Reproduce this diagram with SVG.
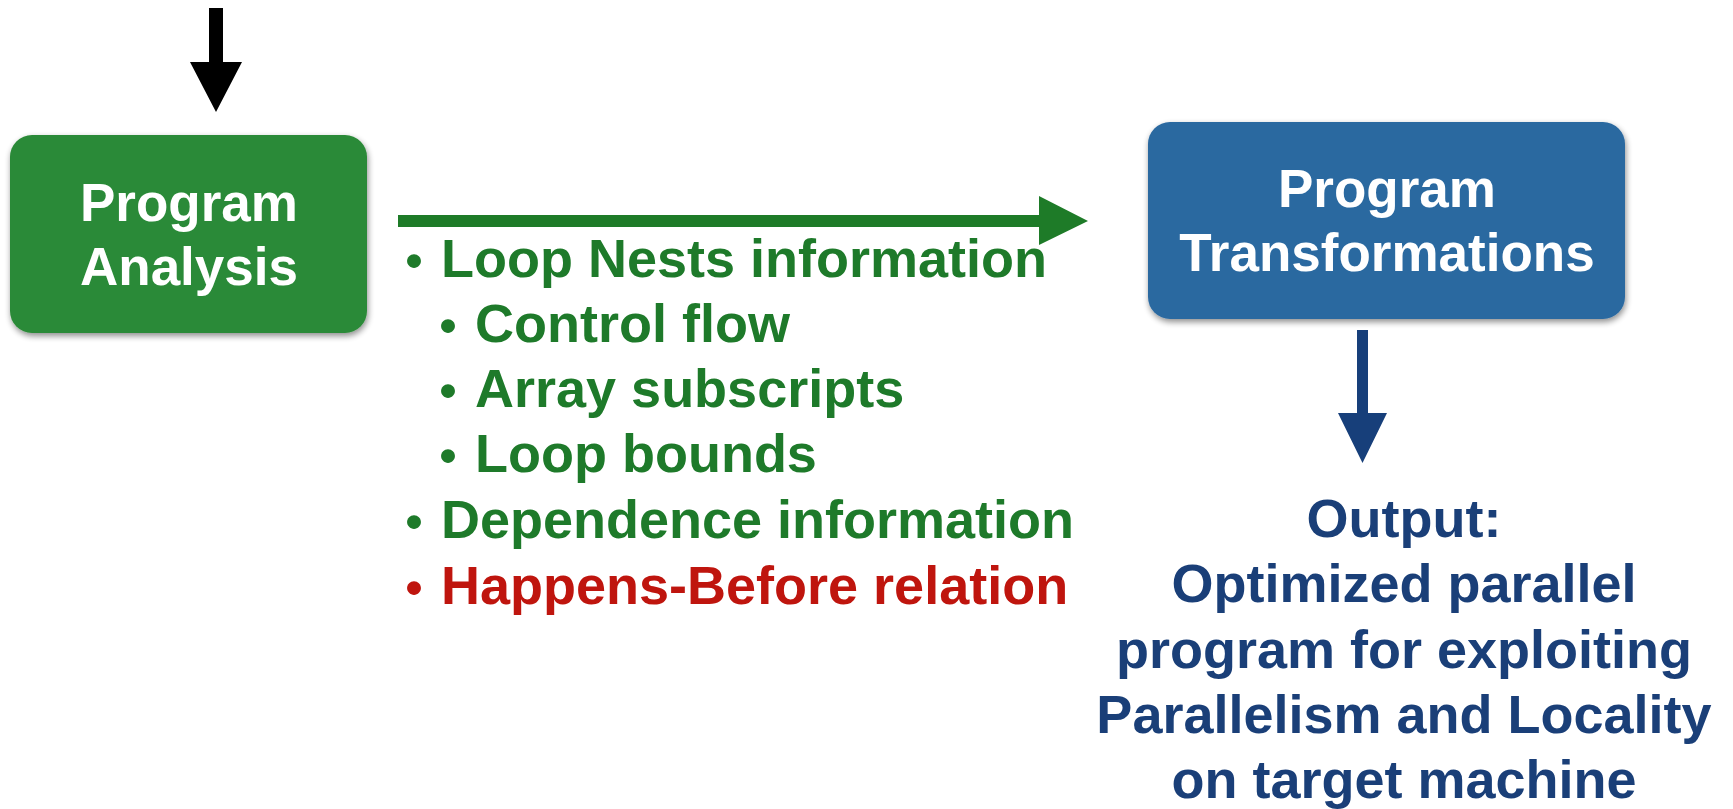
<svg xmlns="http://www.w3.org/2000/svg" width="1733" height="809" viewBox="0 0 1733 809">
<defs>
<filter id="sh" x="-10%" y="-10%" width="125%" height="130%">
<feGaussianBlur in="SourceAlpha" stdDeviation="3"/>
<feOffset dx="1" dy="3" result="b"/>
<feComponentTransfer><feFuncA type="linear" slope="0.45"/></feComponentTransfer>
<feMerge><feMergeNode/><feMergeNode in="SourceGraphic"/></feMerge>
</filter>
</defs>
<style>
text{font-family:"Liberation Sans","Noto Sans CJK JP",Arial,sans-serif;font-weight:bold;}
.box{font-size:53px;fill:#ffffff;text-anchor:middle;}
.g{font-size:54px;fill:#1e7a2a;}
.r{font-size:54px;fill:#bf150e;}
.o{font-size:54px;fill:#1a3f78;text-anchor:middle;}
</style>
<rect width="1733" height="809" fill="#ffffff"/>
<g id="connectors">
<polygon points="209,8 223,8 223,62 242,62 216,112 190,62 209,62" fill="#000000"/>
<polygon points="398,215 1039,215 1039,196 1088,221 1039,245 1039,227 398,227" fill="#1e7b28"/>
<polygon points="1357,330 1368,330 1368,413 1387,413 1362.5,463 1338,413 1357,413" fill="#173f7a"/>
</g>
<g id="program-analysis">
<rect x="10" y="135" width="357" height="198" rx="22" fill="#2b8a37" filter="url(#sh)"/>
<text class="box" x="189" y="221">Program</text>
<text class="box" x="189" y="285">Analysis</text>
</g>
<g id="program-transformations">
<rect x="1148" y="122" width="477" height="197" rx="22" fill="#2c69a0" filter="url(#sh)"/>
<text class="box" x="1387" y="207">Program</text>
<text class="box" x="1387" y="271">Transformations</text>
</g>
<g id="info-list">
<text class="g" x="387" y="277"><tspan dy="5">・</tspan><tspan dy="-5">Loop Nests information</tspan></text>
<text class="g" x="421" y="342"><tspan dy="5">・</tspan><tspan dy="-5">Control flow</tspan></text>
<text class="g" x="421" y="407"><tspan dy="5">・</tspan><tspan dy="-5">Array subscripts</tspan></text>
<text class="g" x="421" y="472"><tspan dy="5">・</tspan><tspan dy="-5">Loop bounds</tspan></text>
<text class="g" x="387" y="538"><tspan dy="5">・</tspan><tspan dy="-5">Dependence information</tspan></text>
<text class="r" x="387" y="604"><tspan dy="5">・</tspan><tspan dy="-5">Happens-Before relation</tspan></text>
</g>
<g id="output">
<text class="o" x="1404" y="537">Output:</text>
<text class="o" x="1404" y="602">Optimized parallel</text>
<text class="o" x="1404" y="668">program for exploiting</text>
<text class="o" x="1404" y="733">Parallelism and Locality</text>
<text class="o" x="1404" y="798">on target machine</text>
</g>
</svg>
